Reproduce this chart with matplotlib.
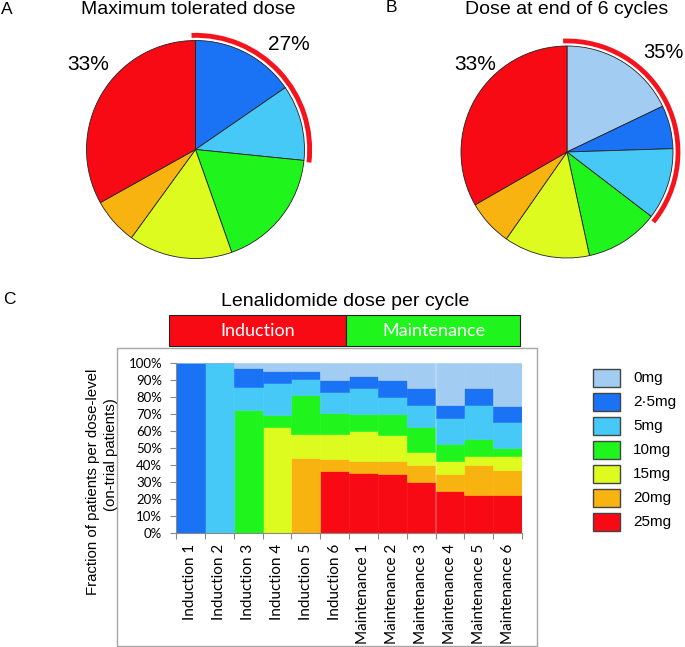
import numpy as np
import matplotlib
matplotlib.use('Agg')
import matplotlib.pyplot as plt
from matplotlib.patches import Rectangle, Wedge

plt.rcParams['font.family'] = ['Liberation Sans', 'DejaVu Sans']

W, H = 685, 647

doses = ['0mg', '2·5mg', '5mg', '10mg', '15mg', '20mg', '25mg']
colours = ['#A3CCF3', '#1A72F5', '#47C9F7', '#1FF51C', '#DEFB1F', '#F9B310', '#F80A15']

# pie A: maximum tolerated dose (% of patients), same order as doses
mtd = [0, 15.4, 11.2, 18.0, 15.4, 6.9, 33.1]
# pie B: dose at end of 6 cycles
end6 = [17.9, 6.6, 10.9, 11.2, 13.1, 7.0, 33.3]

cycles = ['Induction 1', 'Induction 2', 'Induction 3', 'Induction 4', 'Induction 5', 'Induction 6',
          'Maintenance 1', 'Maintenance 2', 'Maintenance 3', 'Maintenance 4', 'Maintenance 5',
          'Maintenance 6']
# fraction of on-trial patients (%) at each dose level, per cycle
d25 = [0, 0, 0, 0, 0, 36.3, 35.1, 34.9, 30.0, 24.9, 22.5, 22.5]
d20 = [0, 0, 0, 0, 44.1, 7.2, 7.3, 7.5, 10.0, 10.0, 17.5, 14.8]
d15 = [0, 0, 0, 62.5, 13.9, 14.9, 17.6, 15.1, 7.5, 7.6, 5.1, 7.8]
d10 = [0, 0, 72.2, 6.9, 23.4, 12.2, 10.2, 12.7, 14.9, 10.0, 10.2, 5.1]
d5 = [0, 100, 13.9, 19.0, 9.2, 12.3, 14.9, 9.8, 12.7, 15.1, 19.8, 14.9]
d2_5 = [100, 0, 11.1, 6.7, 4.9, 7.3, 7.4, 10.0, 10.2, 7.5, 10.2, 9.9]
d0 = [0, 0, 2.8, 4.9, 4.5, 9.8, 7.5, 10.0, 14.7, 24.9, 14.7, 25.0]


def px_rect(l, t, r, b):
    return [l / W, 1 - b / H, (r - l) / W, (b - t) / H]


fig = plt.figure(figsize=(W / 100, H / 100), dpi=100)

# ---- pies ----
def draw_pie(vals, cx, cy, R, arc_end, m=1.2):
    ax = fig.add_axes(px_rect(cx - m * R, cy - m * R, cx + m * R, cy + m * R))
    v = [x for x in vals if x > 0]
    c = [col for x, col in zip(vals, colours) if x > 0]
    ax.pie(v, colors=c, startangle=90, counterclock=False, radius=1,
           wedgeprops=dict(edgecolor='#222222', linewidth=0.6))
    ax.add_patch(Wedge((0, 0), 1.07, arc_end, 92, width=0.045, color='#F5141E', lw=0))
    ax.set_xlim(-m, m)
    ax.set_ylim(-m, m)
    ax.set_aspect('equal')
    ax.axis('off')

draw_pie(mtd, 195.5, 149.5, 109, -6.5)
draw_pie(end6, 567, 152, 106, -39)

# ---- overlay for annotations ----
ov = fig.add_axes([0, 0, 1, 1], zorder=-1)
ov.set_xlim(0, W)
ov.set_ylim(H, 0)
ov.axis('off')

ov.text(7, 9, 'A', fontsize=12.5, ha='center', va='center')
ov.text(188, 10, 'Maximum tolerated dose', fontsize=14, ha='center', va='center')
ov.text(391, 8, 'B', fontsize=12.5, ha='center', va='center')
ov.text(567, 10, 'Dose at end of 6 cycles', fontsize=14, ha='center', va='center')
ov.text(88, 65, '33%', fontsize=15, ha='center', va='center')
ov.text(289, 45, '27%', fontsize=15, ha='center', va='center')
ov.text(475, 65, '33%', fontsize=15, ha='center', va='center')
ov.text(663, 53, '35%', fontsize=14.5, ha='center', va='center')
ov.text(9, 299, 'C', fontsize=12.5, ha='center', va='center')
ov.text(345, 301, 'Lenalidomide dose per cycle', fontsize=14, ha='center', va='center')

ov.add_patch(Rectangle((169.5, 314.5), 177, 31.5, facecolor='#F80A15', edgecolor='#222222', lw=0.8))
ov.add_patch(Rectangle((346.5, 314.5), 174, 31.5, facecolor='#1FF51C', edgecolor='#222222', lw=0.8))
ov.text(258, 331, 'Induction', fontsize=13, color='white', ha='center', va='center', family='Lato')
ov.text(433.5, 331, 'Maintenance', fontsize=13, color='white', ha='center', va='center', family='Lato')

ov.add_patch(Rectangle((117.5, 347.5), 420, 298, facecolor='white', edgecolor='#A6A6A6', lw=1))

ov.text(93, 482, 'Fraction of patients per dose-level', fontsize=10.8,
        rotation=90, ha='center', va='center')
ov.text(111.5, 455, '(on-trial patients)', fontsize=10.8,
        rotation=90, ha='center', va='center')

# legend swatches
for i, (lab, col) in enumerate(zip(doses, colours)):
    yc = 378 + i * 24
    ov.add_patch(Rectangle((593.5, yc - 9), 27, 18, facecolor=col, edgecolor='#444444', lw=1))
    ov.text(633, yc, lab, fontsize=11, ha='left', va='center')

# ---- stacked dose chart ----
ax = fig.add_axes(px_rect(176, 363, 522, 533))
x = np.arange(len(cycles)) + 0.5
bottom = np.zeros(len(cycles))
for vals, col in zip([d25, d20, d15, d10, d5, d2_5, d0], colours[::-1]):
    ax.bar(x, vals, width=1.0, bottom=bottom, color=col, edgecolor=col, linewidth=0.4)
    bottom += np.array(vals)

ax.set_xlim(0, len(cycles))
ax.set_ylim(0, 100)
ax.set_xticks(x)
ax.set_xticklabels(cycles, rotation=90, fontsize=11, family='Lato')
ax.set_xticks(np.arange(len(cycles) + 1), minor=True)
ax.tick_params(axis='x', which='major', length=0, pad=8)
ax.tick_params(axis='x', which='minor', length=4, color='#898989', width=0.8)
ax.set_yticks(np.arange(0, 101, 10))
ax.set_yticklabels([f'{v}%' for v in range(0, 101, 10)], fontsize=9.5, family='Lato')
ax.tick_params(axis='y', length=4, color='#898989', width=0.8, pad=6)
for s in ['top', 'right']:
    ax.spines[s].set_visible(False)
for s in ['left', 'bottom']:
    ax.spines[s].set_color('#898989')
    ax.spines[s].set_linewidth(0.8)

plt.savefig('out.png', dpi=100)
